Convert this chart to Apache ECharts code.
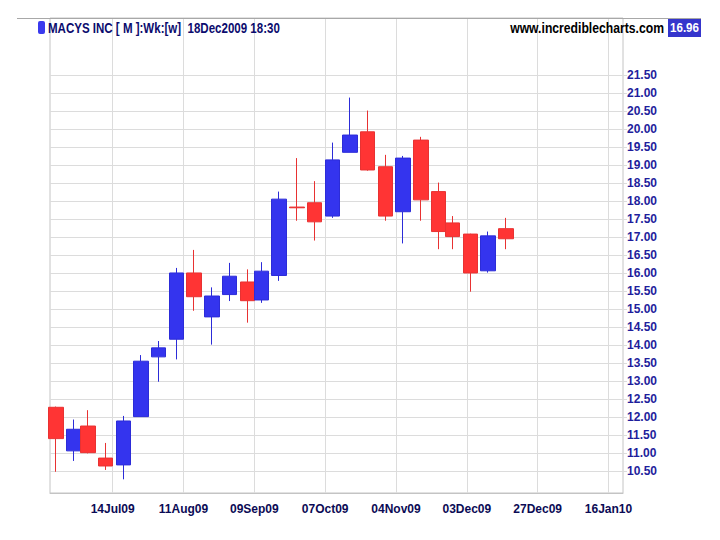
<!DOCTYPE html>
<html>
<head>
<meta charset="utf-8">
<script src="https://cdn.jsdelivr.net/npm/echarts@6/dist/echarts.min.js"></script>
<style>
html,body{margin:0;padding:0;background:#ffffff;}
#chart{width:720px;height:540px;}
</style>
</head>
<body>
<div id="chart"></div>
<script>
// ---- data (weekly candles, week's last trading day) ----
const weekEnd = ['2009-06-19','2009-06-26','2009-07-02','2009-07-10','2009-07-17','2009-07-24','2009-07-31','2009-08-07','2009-08-14','2009-08-21','2009-08-28','2009-09-04','2009-09-11','2009-09-18','2009-09-25','2009-10-02','2009-10-09','2009-10-16','2009-10-23','2009-10-30','2009-11-06','2009-11-13','2009-11-20','2009-11-27','2009-12-04','2009-12-11','2009-12-18'];
const openP  = [12.28,11.07,11.76,10.87,10.68,12.02,13.68,14.17,16.01,14.79,15.41,15.76,15.26,15.94,17.84,17.96,17.59,19.36,19.93,18.96,17.71,19.70,18.27,17.40,17.09,16.07,17.24];
const closeP = [11.41,11.67,11.02,10.65,11.90,13.56,13.93,16.01,15.35,15.37,15.92,15.24,16.06,18.06,17.82,17.43,19.15,19.84,18.87,17.59,19.20,18.04,17.16,17.02,16.01,17.04,16.96];
const lowP   = [10.49,10.79,11.00,10.54,10.28,12.02,12.99,13.61,14.96,14.02,15.23,14.63,15.18,15.79,17.46,16.91,17.54,19.36,18.85,17.46,16.83,17.46,16.67,16.67,15.49,16.02,16.67];
const highP  = [12.30,11.94,12.20,11.29,12.04,13.73,14.12,16.15,16.65,15.61,16.29,16.11,16.31,18.27,19.20,18.56,19.63,20.88,20.52,19.29,19.26,19.79,18.52,17.59,17.10,17.16,17.54];
const holidays = ['2009-07-03','2009-09-07','2009-11-26'];
const firstDay = '2009-06-15';
const xTickDays = [20,40,60,80,100,120,140,160];
const xTickLabels = ['14Jul09','11Aug09','09Sep09','07Oct09','04Nov09','03Dec09','27Dec09','16Jan10'];
const yTicks = [10.5,11.0,11.5,12.0,12.5,13.0,13.5,14.0,14.5,15.0,15.5,16.0,16.5,17.0,17.5,18.0,18.5,19.0,19.5,20.0,20.5,21.0,21.5];
const titleText = 'MACYS INC [ M ]:Wk:[w]  18Dec2009 18:30';
const siteText = 'www.incrediblecharts.com';
const lastPrice = '16.96';

// trading-day index (weekdays excluding holidays) counted from firstDay
function tradingIndex(dateStr) {
  const start = Date.parse(firstDay + 'T00:00:00Z');
  const end = Date.parse(dateStr + 'T00:00:00Z');
  let n = -1;
  for (let t = start; t <= end; t += 86400000) {
    const d = new Date(t);
    const wd = d.getUTCDay();
    const iso = d.toISOString().slice(0, 10);
    if (wd !== 0 && wd !== 6 && holidays.indexOf(iso) < 0) n++;
  }
  return n;
}

const candleData = weekEnd.map((d, i) => [tradingIndex(d), openP[i], closeP[i], lowP[i], highP[i]]);

const FONT = '"Liberation Sans", Arial, Helvetica, sans-serif';
const GRID_LINE = '#dcdcdc';

// horizontal squeeze so header text mimics the condensed face of the original
const measureCtx = document.createElement('canvas').getContext('2d');
function squeeze(text, font, targetWidth) {
  measureCtx.font = font;
  const w = measureCtx.measureText(text).width;
  return w > 0 ? Math.min(1, targetWidth / w) : 1;
}
const titleFont = 'bold 14px ' + FONT;
const siteFont = 'bold 14px ' + FONT;
const priceFont = 'bold 13px ' + FONT;

const chart = echarts.init(document.getElementById('chart'), null, {renderer: 'svg'});
chart.setOption({
  animation: false,
  backgroundColor: '#ffffff',
  grid: {
    left: 50, right: 97, top: 18, bottom: 47,
    show: true, borderColor: '#c4c4c4', borderWidth: 1, backgroundColor: 'transparent'
  },
  xAxis: {
    type: 'value',
    min: 2.3, max: 164.1,
    axisLine: {show: true, lineStyle: {color: '#c4c4c4', width: 1}},
    axisTick: {show: false, customValues: xTickDays},
    axisLabel: {
      customValues: xTickDays,
      formatter: v => xTickLabels[xTickDays.indexOf(v)] || '',
      color: '#0b0b55', fontWeight: 'bold', fontSize: 12, fontFamily: FONT, margin: 10
    },
    splitLine: {show: true, lineStyle: {color: GRID_LINE, width: 1}}
  },
  yAxis: {
    type: 'value',
    position: 'right',
    min: 9.9, max: 23.09,
    scale: true,
    axisLine: {show: false},
    axisTick: {show: true, inside: false, length: 4, lineStyle: {color: GRID_LINE}, customValues: yTicks},
    axisLabel: {
      customValues: yTicks,
      formatter: v => v.toFixed(2),
      color: '#1e1e9c', fontWeight: 'bold', fontSize: 12, fontFamily: FONT, margin: 4
    },
    splitLine: {show: true, lineStyle: {color: GRID_LINE, width: 1}}
  },
  series: [{
    type: 'candlestick',
    data: candleData,
    encode: {x: 0, y: [1, 2, 3, 4]},
    barWidth: 15,
    itemStyle: {
      color: '#3434ee', color0: '#ff3434',
      borderColor: '#2c2cd8', borderColor0: '#e83232',
      borderWidth: 1
    }
  }],
  graphic: [
    {type: 'line', silent: true, shape: {x1: 17, y1: 18.5, x2: 701, y2: 18.5}, style: {stroke: '#a8a8a8', lineWidth: 1}, z: 100},
    {type: 'rect', silent: true, shape: {x: 38, y: 21, width: 7, height: 13, r: 2}, style: {fill: '#3a3aee'}, z: 100},
    {type: 'text', silent: true, x: 48, y: 28, scaleX: squeeze(titleText, titleFont, 232), originX: 0,
      style: {text: titleText, fill: '#0c0c6e', font: titleFont, align: 'left', verticalAlign: 'middle'}, z: 100},
    {type: 'text', silent: true, x: 664, y: 28, scaleX: squeeze(siteText, siteFont, 154), originX: 0,
      style: {text: siteText, fill: '#000000', font: siteFont, align: 'right', verticalAlign: 'middle'}, z: 100},
    {type: 'rect', silent: true, shape: {x: 668, y: 19, width: 33, height: 18}, style: {fill: '#3535cc'}, z: 100},
    {type: 'text', silent: true, x: 684.5, y: 28, scaleX: squeeze(lastPrice, priceFont, 29), originX: 0,
      style: {text: lastPrice, fill: '#ffffff', font: priceFont, align: 'center', verticalAlign: 'middle'}, z: 101}
  ]
});
</script>
</body>
</html>
